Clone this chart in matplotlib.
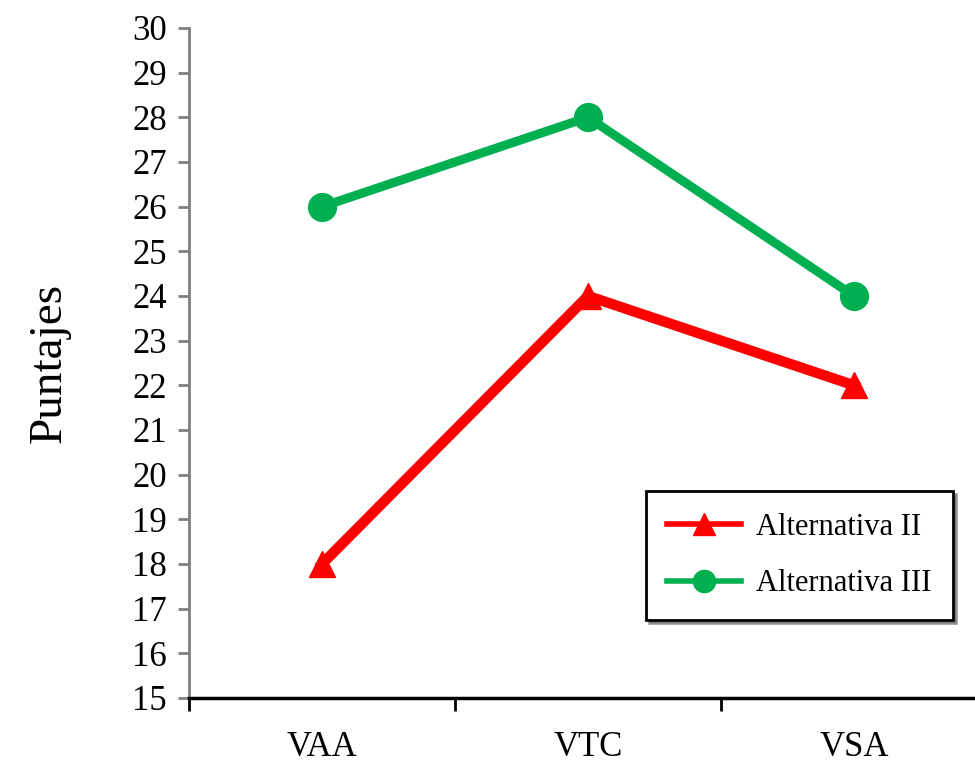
import matplotlib.pyplot as plt
from matplotlib.lines import Line2D

# datos
categorias = ["VAA", "VTC", "VSA"]
alternativa_2 = [18, 24, 22]
alternativa_3 = [26, 28, 24]

plt.rcParams['font.family'] = ['Liberation Serif', 'DejaVu Serif']

fig = plt.figure(figsize=(9.75, 7.69), dpi=100)
ax = fig.add_axes([189/975, 71/769, 798/975, 670/769])

x = list(range(len(categorias)))
ax.plot(x, alternativa_2, color='#FF0000', lw=7.5, marker='^', ms=19, zorder=3)
ax.plot(x, alternativa_3, color='#00B050', lw=6.5, marker='o', ms=20, zorder=3)

ax.set_xlim(-0.5, 2.5)
ax.set_ylim(15, 30)
ax.set_yticks(range(15, 31))
ax.tick_params(axis='y', colors='#808080', length=8, width=2, labelsize=25, labelcolor='black', pad=8)

# ticks del eje x en los bordes de cada categoria
ax.set_xticks([-0.5, 0.5, 1.5, 2.5])
ax.set_xticklabels([])
ax.set_xticks(x, minor=True)
ax.set_xticklabels(categorias, minor=True)
ax.tick_params(axis='x', which='major', length=9, width=2, color='black')
ax.tick_params(axis='x', which='minor', length=0, labelsize=25, pad=24)

for s in ['top', 'right']:
    ax.spines[s].set_visible(False)
ax.spines['left'].set_color('#808080')
ax.spines['left'].set_linewidth(2)
ax.spines['bottom'].set_color('black')
ax.spines['bottom'].set_linewidth(2.5)

ax.set_ylabel("Puntajes", fontsize=34, labelpad=44)

handles = [Line2D([], [], color='#FF0000', lw=4, marker='^', ms=16),
           Line2D([], [], color='#00B050', lw=4, marker='o', ms=16)]
leg = ax.legend(handles, ["Alternativa II", "Alternativa III"], fontsize=22,
                loc='lower right', bbox_to_anchor=(968/975, 134/769), bbox_transform=fig.transFigure,
                fancybox=False, shadow=True, edgecolor='black', framealpha=1,
                handlelength=2.4, handletextpad=0.5, borderpad=0.7, labelspacing=0.9)
leg.get_frame().set_linewidth(2)

fig.savefig("out.png", dpi=100)
